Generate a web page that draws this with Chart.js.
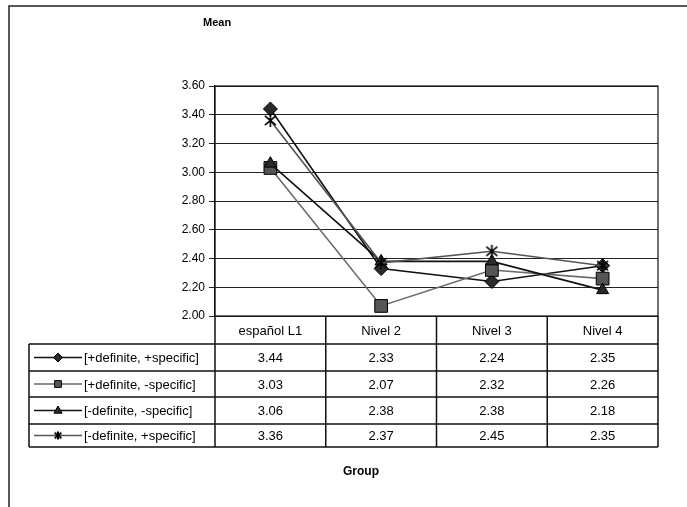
<!DOCTYPE html>
<html><head><meta charset="utf-8">
<script src="https://cdn.jsdelivr.net/npm/chart.js@4.4.0/dist/chart.umd.min.js"></script>
<style>html,body{margin:0;padding:0;background:#fff;overflow:hidden}canvas{display:block}</style>
</head><body>
<canvas id="c" width="687" height="507"></canvas>
<script>
const categories = ['español L1', 'Nivel 2', 'Nivel 3', 'Nivel 4'];
const seriesNames = ['[+definite, +specific]', '[+definite, -specific]', '[-definite, -specific]', '[-definite, +specific]'];
const defPlusSpec = [3.44, 2.33, 2.24, 2.35];
const defMinusSpec = [3.03, 2.07, 2.32, 2.26];
const indefMinusSpec = [3.06, 2.38, 2.38, 2.18];
const indefPlusSpec = [3.36, 2.37, 2.45, 2.35];
const yTicks = [2.00, 2.20, 2.40, 2.60, 2.80, 3.00, 3.20, 3.40, 3.60];
const yTitle = 'Mean';
const xTitle = 'Group';

const FONT = "'Liberation Sans', Arial, sans-serif";
const seriesValues = [defPlusSpec, defMinusSpec, indefMinusSpec, indefPlusSpec];
const lineColors = ['#111111', '#6a6a6a', '#111111', '#555555'];
const markerFill = ['#2a2a2a', '#555555', '#2a2a2a', '#000000'];
const markerStyles = ['rectRot', 'rect', 'triangle', 'star6'];
const markerRadius = [7, 9, 7, 7];

function makeStar(size, lw) {
  const c = document.createElement('canvas');
  c.width = size; c.height = size;
  const g = c.getContext('2d');
  g.strokeStyle = '#000'; g.lineWidth = lw; g.lineCap = 'butt';
  const m = size / 2, r = size / 2 - 1;
  g.beginPath();
  g.moveTo(m - r * 0.85, m - r * 0.7); g.lineTo(m + r * 0.85, m + r * 0.7);
  g.moveTo(m + r * 0.85, m - r * 0.7); g.lineTo(m - r * 0.85, m + r * 0.7);
  g.moveTo(m, m - r); g.lineTo(m, m + r);
  g.stroke();
  return c;
}
const starBig = makeStar(15, 1.6);
const starSmall = makeStar(10, 2);

const datasets = seriesNames.map((name, i) => ({
  label: name,
  data: seriesValues[i],
  borderColor: lineColors[i],
  borderWidth: 1.6,
  pointStyle: markerStyles[i] === 'star6' ? starBig : markerStyles[i],
  pointRadius: markerRadius[i],
  pointHoverRadius: markerRadius[i],
  pointBackgroundColor: markerFill[i],
  pointBorderColor: '#000',
  pointBorderWidth: 1,
  fill: false,
  tension: 0,
  order: 4 - i
}));

function drawMarker(ctx, style, x, y, r, fill) {
  ctx.save();
  ctx.fillStyle = fill; ctx.strokeStyle = '#000'; ctx.lineWidth = 1;
  ctx.beginPath();
  if (style === 'rectRot') {
    ctx.moveTo(x, y - r); ctx.lineTo(x + r, y); ctx.lineTo(x, y + r); ctx.lineTo(x - r, y); ctx.closePath();
    ctx.fill(); ctx.stroke();
  } else if (style === 'rect') {
    ctx.rect(x - r * 0.75, y - r * 0.75, r * 1.5, r * 1.5);
    ctx.fill(); ctx.stroke();
  } else if (style === 'triangle') {
    ctx.moveTo(x, y - r); ctx.lineTo(x + r * 0.9, y + r * 0.6); ctx.lineTo(x - r * 0.9, y + r * 0.6); ctx.closePath();
    ctx.fill(); ctx.stroke();
  } else {
    ctx.drawImage(starSmall, x - starSmall.width / 2, y - starSmall.height / 2);
  }
  ctx.restore();
}

const tablePlugin = {
  id: 'tablePlugin',
  afterDraw(chart) {
    const ctx = chart.ctx;
    const ca = chart.chartArea;
    const xs = chart.scales.x;
    const n = categories.length;
    const colW = (ca.right - ca.left) / n;
    const tableLeft = 29;
    const rowY = [ca.bottom, ca.bottom + 28, ca.bottom + 55, ca.bottom + 81, ca.bottom + 108, ca.bottom + 131];
    ctx.save();
    // outer frame
    ctx.strokeStyle = '#222'; ctx.lineWidth = 1.5;
    ctx.beginPath();
    ctx.moveTo(9, 507); ctx.lineTo(9, 6); ctx.lineTo(687, 6);
    ctx.stroke();
    // plot border
    ctx.strokeStyle = '#111'; ctx.lineWidth = 1.2;
    ctx.strokeRect(ca.left, ca.top, ca.right - ca.left, ca.bottom - ca.top);
    // table lines
    ctx.strokeStyle = '#111'; ctx.lineWidth = 1.5;
    ctx.beginPath();
    for (let k = 1; k < rowY.length; k++) {
      ctx.moveTo(tableLeft, rowY[k]); ctx.lineTo(ca.right, rowY[k]);
    }
    ctx.moveTo(tableLeft, rowY[1]); ctx.lineTo(tableLeft, rowY[rowY.length - 1]);
    for (let j = 0; j <= n; j++) {
      const x = ca.left + j * colW;
      ctx.moveTo(x, rowY[0]); ctx.lineTo(x, rowY[rowY.length - 1]);
    }
    ctx.stroke();
    // texts
    ctx.fillStyle = '#000';
    ctx.font = '13px ' + FONT;
    ctx.textBaseline = 'middle';
    ctx.textAlign = 'center';
    categories.forEach((c, j) => {
      ctx.fillText(c, xs.getPixelForValue(j), (rowY[0] + rowY[1]) / 2 + 1);
    });
    seriesNames.forEach((name, i) => {
      const yc = (rowY[i + 1] + rowY[i + 2]) / 2 + 1;
      ctx.textAlign = 'center';
      seriesValues[i].forEach((v, j) => {
        ctx.fillText(v.toFixed(2), xs.getPixelForValue(j), yc);
      });
      // legend sample
      ctx.save();
      ctx.strokeStyle = lineColors[i]; ctx.lineWidth = 1.6;
      ctx.beginPath(); ctx.moveTo(34, yc - 1); ctx.lineTo(82, yc - 1); ctx.stroke();
      ctx.restore();
      drawMarker(ctx, markerStyles[i], 58, yc - 1, 4.5, markerFill[i]);
      ctx.textAlign = 'left';
      ctx.fillText(name, 84, yc);
    });
    // titles
    ctx.font = 'bold 11px ' + FONT;
    ctx.textAlign = 'left';
    ctx.fillText(yTitle, 203, 23);
    ctx.font = 'bold 12px ' + FONT;
    ctx.fillText(xTitle, 343, 472);
    ctx.restore();
  }
};

new Chart(document.getElementById('c'), {
  type: 'line',
  data: { labels: categories, datasets },
  options: {
    responsive: false,
    animation: false,
    devicePixelRatio: 1,
    layout: { padding: { left: 0, top: 86, right: 29, bottom: 191 } },
    plugins: { legend: { display: false }, tooltip: { enabled: false }, title: { display: false } },
    scales: {
      x: { type: 'category', offset: true, display: false },
      y: {
        min: yTicks[0], max: yTicks[yTicks.length - 1],
        afterBuildTicks: s => { s.ticks = yTicks.map(v => ({ value: v })); },
        afterFit: s => { s.width = 215; },
        ticks: { color: '#000', font: { family: FONT, size: 12 }, padding: 4, callback: v => Number(v).toFixed(2) },
        grid: { color: '#222', lineWidth: 1, tickLength: 6, drawTicks: true },
        border: { color: '#111', width: 1.2 }
      }
    }
  },
  plugins: [tablePlugin]
});
</script>
</body></html>
